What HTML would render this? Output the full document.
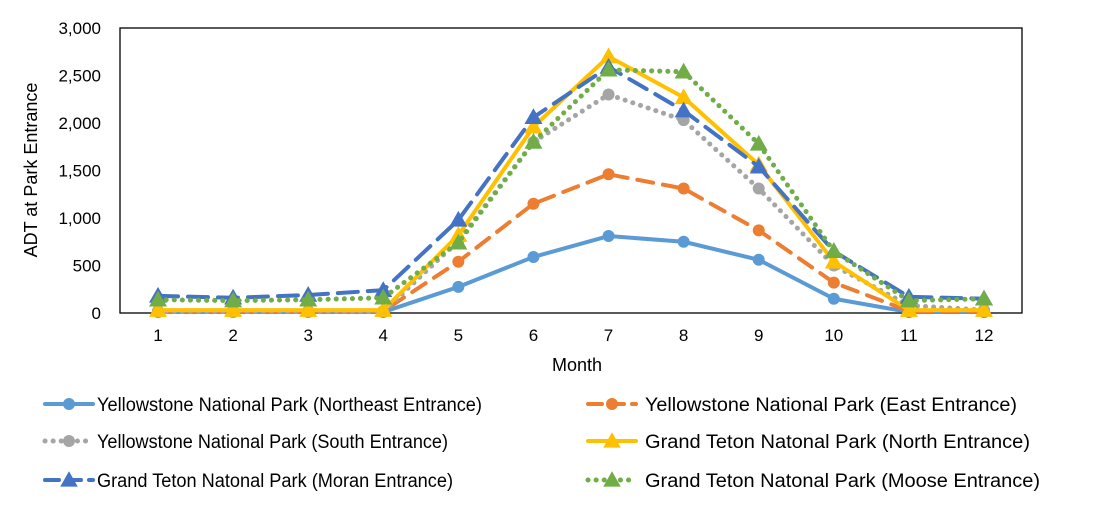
<!DOCTYPE html>
<html><head><meta charset="utf-8"><style>
body{margin:0;background:#fff;}
svg{display:block;font-family:"Liberation Sans",Arial,sans-serif;}
</style></head><body>
<svg id="chart" width="1106" height="506" viewBox="0 0 1106 506">
<rect x="120" y="28" width="902" height="285" fill="#fff" stroke="#000" stroke-width="1.3"/>
<g id="yticks"></g>
<g id="xticks"></g>
<text x="577" y="371" font-size="18" text-anchor="middle" fill="#000">Month</text>
<text transform="translate(37,170) rotate(-90)" font-size="18" text-anchor="middle" fill="#000">ADT at Park Entrance</text>
<g id="series"></g>
<g id="legend"></g>
</svg>
<script>
const months = [1,2,3,4,5,6,7,8,9,10,11,12];
const yTicks = [0,500,1000,1500,2000,2500,3000];
const yTickLabels = ["0","500","1,000","1,500","2,000","2,500","3,000"];
const northeast = [10,10,10,10,275,590,810,750,560,150,10,10];
const east = [20,20,20,20,540,1150,1460,1310,870,320,20,20];
const south = [15,15,15,15,760,1800,2300,2030,1310,500,80,30];
const north = [30,30,30,30,820,1960,2700,2270,1560,540,30,30];
const moran = [180,160,190,240,980,2060,2590,2130,1540,650,170,150];
const moose = [140,130,140,160,740,1800,2560,2540,1780,650,130,150];
const seriesNames = ["Yellowstone National Park (Northeast Entrance)","Yellowstone National Park (East Entrance)","Yellowstone National Park (South Entrance)","Grand Teton Natonal Park (North Entrance)","Grand Teton Natonal Park (Moran Entrance)","Grand Teton Natonal Park (Moose Entrance)"];

const NS="http://www.w3.org/2000/svg";
const xS = m => 158 + (m-1)*(984-158)/11;
const yS = v => 313 - v*(285/3000);
function mk(tag, attrs, parent){const e=document.createElementNS(NS,tag);for(const k in attrs)e.setAttribute(k,attrs[k]);parent.appendChild(e);return e;}

const yg=document.getElementById('yticks');
yTicks.forEach((v,i)=>{
  const t=mk('text',{x:101,y:yS(v)+6,'font-size':17,'text-anchor':'end',fill:'#000'},yg);
  t.textContent=yTickLabels[i];
  
  
});
const xg=document.getElementById('xticks');
months.forEach(m=>{
  const t=mk('text',{x:xS(m),y:341,'font-size':17,'text-anchor':'middle',fill:'#000'},xg);
  t.textContent=m;
  
  
});

const styles=[
 {data:northeast,color:'#5B9BD5',dash:'',cap:'round',marker:'circle',key:'northeast'},
 {data:east,color:'#ED7D31',dash:'16 10',cap:'round',marker:'circle',key:'east'},
 {data:south,color:'#A5A5A5',dash:'0.1 8',cap:'round',marker:'circle',key:'south'},
 {data:north,color:'#FFC000',dash:'',cap:'round',marker:'tri',key:'north'},
 {data:moran,color:'#4472C4',dash:'20 10',cap:'round',marker:'tri',key:'moran'},
 {data:moose,color:'#70AD47',dash:'0.1 8',cap:'round',marker:'tri',key:'moose'}
];
function marker(type,x,y,color,parent,r){
  if(type==='circle') return mk('circle',{cx:x,cy:y,r:r||6,fill:color},parent);
  const s=r?r*1.25:9;
  return mk('polygon',{points:`${x},${y-s} ${x+s},${y+s*0.75} ${x-s},${y+s*0.75}`,fill:color},parent);
}
const sg=document.getElementById('series');
styles.forEach(s=>{
  const g=mk('g',{},sg);
  
  
  const pts=s.data.map((v,i)=>xS(months[i])+','+yS(v)).join(' ');
  const pl=mk('polyline',{points:pts,fill:'none',stroke:s.color,'stroke-width':s.dash.startsWith('0.1')?5:4,'stroke-dasharray':s.dash,'stroke-linecap':s.cap,'stroke-linejoin':'round'},g);
  
  
  s.data.forEach((v,i)=>{
    const m=marker(s.marker,xS(months[i]),yS(v),s.color,g);
    
    
  });
});

const lg=document.getElementById('legend');
const pos=[[43,404],[586,404],[43,441],[586,441],[43,480],[586,480]];
const textX=[97,645,97,645,97,645];
const widths=[385,372,351,385,356,395];
styles.forEach((s,i)=>{
  const [x,y]=pos[i];
  const g=mk('g',{},lg);
  
  
  mk('line',{x1:x+2,y1:y,x2:x+50,y2:y,stroke:s.color,'stroke-width':s.dash.startsWith('0.1')?5:4,'stroke-dasharray':s.dash.startsWith('0.1')?'0.1 8':(s.dash?'14 8':''),'stroke-linecap':'round'},g);
  marker(s.marker,x+26,y,s.color,g,s.marker==='circle'?6:7);
  const t=mk('text',{x:textX[i],y:y+7,'font-size':19,fill:'#000',textLength:widths[i],lengthAdjust:'spacingAndGlyphs'},g);
  t.textContent=seriesNames[i];
});
</script>
</body></html>
